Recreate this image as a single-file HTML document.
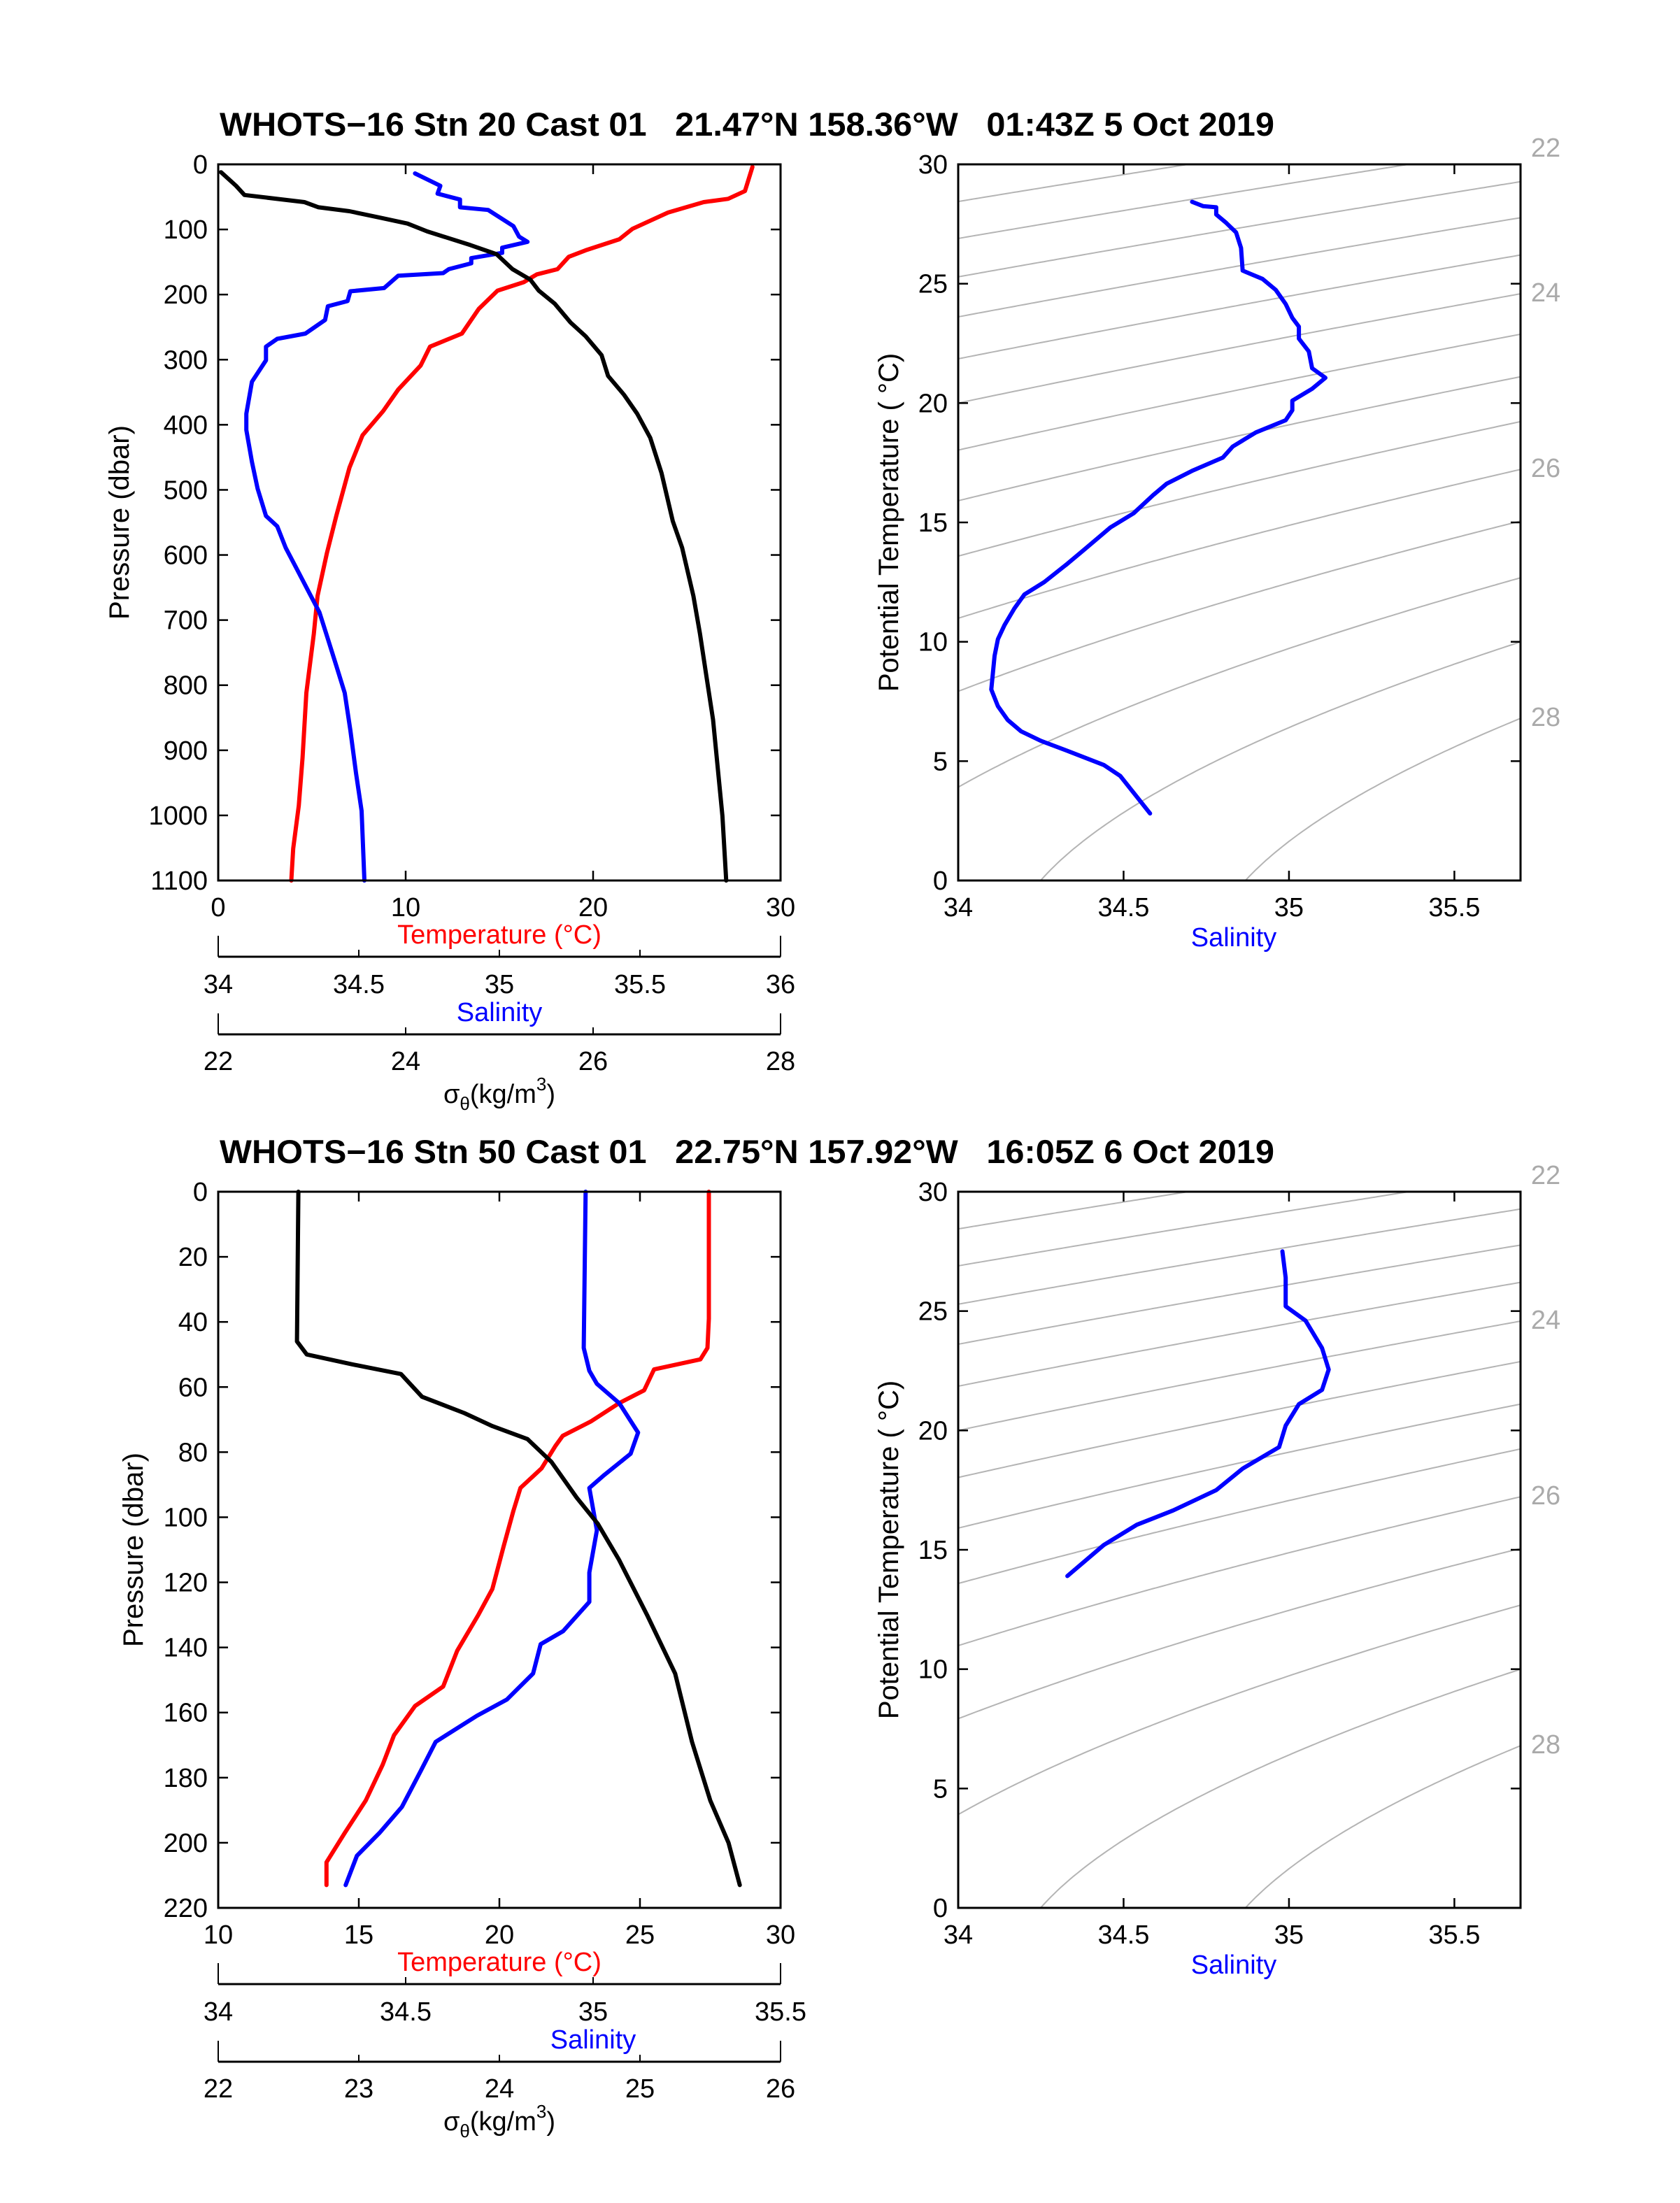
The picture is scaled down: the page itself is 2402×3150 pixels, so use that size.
<!DOCTYPE html>
<html><head><meta charset="utf-8"><title>WHOTS-16 CTD profiles</title>
<style>
html,body{margin:0;padding:0;background:#fff;}
svg{display:block;font-family:"Liberation Sans",Arial,sans-serif;}
</style></head>
<body>
<svg id="fig" xmlns="http://www.w3.org/2000/svg" width="2402" height="3150" viewBox="0 0 2402 3150"></svg>
<script>
// ===== Station 20 profile data =====
const s20Pres_T = [4,41,53,58,74,99,115,132,142,161,169,181,194,222,260,280,309,346,379,416,466,540,597,663,721,812,911,985,1051,1100];
const s20Temp   = [28.5,28.1,27.2,25.9,24.0,22.1,21.4,19.6,18.7,18.1,17.0,16.3,14.9,13.9,13.0,11.3,10.8,9.6,8.8,7.7,7.0,6.3,5.8,5.3,5.1,4.7,4.5,4.3,4.0,3.9];
const s20Pres_S = [14,33,45,54,66,70,95,111,119,128,136,144,152,161,167,171,190,195,210,218,239,260,268,280,301,334,383,408,457,498,540,556,589,622,655,688,729,770,812,869,935,993,1100];
const s20Sal    = [34.70,34.79,34.78,34.86,34.86,34.96,35.05,35.07,35.10,35.01,35.01,34.90,34.90,34.82,34.80,34.64,34.59,34.47,34.46,34.39,34.38,34.31,34.21,34.17,34.17,34.12,34.10,34.10,34.12,34.14,34.17,34.21,34.24,34.28,34.32,34.36,34.39,34.42,34.45,34.47,34.49,34.51,34.52];
const s20Pres_D = [12,33,47,58,66,72,82,91,103,113,124,138,161,177,194,214,243,264,293,325,354,383,420,474,548,589,663,721,787,853,927,1001,1100];
const s20Sigma  = [22.03,22.19,22.28,22.92,23.07,23.40,23.73,24.02,24.23,24.45,24.69,24.97,25.14,25.33,25.42,25.59,25.76,25.92,26.09,26.16,26.33,26.47,26.61,26.73,26.85,26.95,27.07,27.14,27.21,27.28,27.33,27.38,27.42];
const s20TS_S   = [34.707,34.74,34.78,34.78,34.81,34.84,34.855,34.86,34.92,34.96,34.99,35.01,35.03,35.03,35.06,35.07,35.11,35.07,35.01,35.01,34.99,34.90,34.83,34.80,34.71,34.63,34.59,34.53,34.46,34.38,34.33,34.26,34.20,34.17,34.14,34.12,34.11,34.10,34.12,34.15,34.19,34.25,34.34,34.44,34.49,34.58];
const s20TS_T   = [28.43,28.25,28.2,27.9,27.55,27.15,26.5,25.55,25.2,24.74,24.15,23.57,23.2,22.7,22.16,21.46,21.06,20.6,20.1,19.7,19.28,18.77,18.18,17.72,17.18,16.62,16.15,15.38,14.79,13.85,13.27,12.5,11.98,11.4,10.7,10.11,9.41,8.0,7.3,6.72,6.25,5.85,5.38,4.84,4.38,2.81];

// ===== Station 50 profile data =====
const s50Pres_T = [0,39,48,51.5,54.6,61,65,70.6,75,78,85,91,98,109,122,130,141,152,158,167,176,187,197,206,213];
const s50Temp   = [27.45,27.45,27.4,27.15,25.5,25.15,24.25,23.25,22.25,22.0,21.5,20.75,20.5,20.15,19.75,19.25,18.5,18.0,17.0,16.25,15.85,15.25,14.5,13.85,13.85];
const s50Pres_S = [0,48,55,59,65,74,80.5,87,91,104,117,126,135,139,148,156,161,169,178,189,197,204,213];
const s50Sal    = [34.98,34.975,34.99,35.01,35.07,35.12,35.10,35.03,34.99,35.01,34.99,34.99,34.92,34.86,34.84,34.77,34.69,34.58,34.54,34.49,34.43,34.37,34.34];
const s50Pres_D = [0,46,50,53,56,63,68,72,76,83,94,102,113,130,148,169,187,200,213];
const s50Sigma  = [22.57,22.56,22.63,22.95,23.3,23.45,23.75,23.95,24.2,24.37,24.55,24.7,24.85,25.05,25.25,25.37,25.5,25.63,25.71];
const s50TS_S   = [34.98,34.99,34.99,35.05,35.10,35.12,35.10,35.03,34.99,34.97,34.86,34.78,34.65,34.54,34.44,34.33];
const s50TS_T   = [27.5,26.4,25.2,24.6,23.45,22.55,21.7,21.1,20.2,19.3,18.4,17.5,16.65,16.05,15.2,13.9];

// ===== tick labels & contour levels =====
const s20PresTicks = [0,100,200,300,400,500,600,700,800,900,1000,1100];
const s20TempTicks = [0,10,20,30];
const s20SalTicks  = [34,34.5,35,35.5,36];
const s20SigTicks  = [22,24,26,28];
const s50PresTicks = [0,20,40,60,80,100,120,140,160,180,200,220];
const s50TempTicks = [10,15,20,25,30];
const s50SalTicks  = [34,34.5,35,35.5];
const s50SigTicks  = [22,23,24,25,26];
const tsSalTicks   = [34,34.5,35,35.5];
const tsTempTicks  = [0,5,10,15,20,25,30];
const sigmaLevels  = [21.5,22,22.5,23,23.5,24,24.5,25,25.5,26,26.5,27,27.5,28];
const sigmaLabelVals = [22,24,26,28];

const NS='http://www.w3.org/2000/svg';
const svg=document.getElementById('fig');
function mk(tag,attrs,parent){const e=document.createElementNS(NS,tag);for(const k in attrs)e.setAttribute(k,attrs[k]);(parent||svg).appendChild(e);return e;}
function txt(str,x,y,size,anchor,fill,parent,extra){const t=mk('text',Object.assign({x:x,y:y,'font-size':size,'text-anchor':anchor||'middle',fill:fill||'#000'},extra||{}),parent);t.textContent=str;return t;}
function lin(d0,d1,p0,p1){return v=>p0+(v-d0)/(d1-d0)*(p1-p0);}
function fmt(v){return String(v);}

const W=804,H=1024,LX=312,RX=1370;

function sigma(S,T){
  const rw=999.842594+6.793952e-2*T-9.095290e-3*T*T+1.001685e-4*T**3-1.120083e-6*T**4+6.536332e-9*T**5;
  const A=8.24493e-1-4.0899e-3*T+7.6438e-5*T*T-8.2467e-7*T**3+5.3875e-9*T**4;
  const B=-5.72466e-3+1.0227e-4*T-1.6546e-6*T*T;
  return rw+A*S+B*Math.pow(S,1.5)+4.8314e-4*S*S-1000;
}
function tForSigma(S,lev){let lo=-2,hi=40;if(sigma(S,lo)<lev||sigma(S,hi)>lev)return null;for(let i=0;i<50;i++){const m=(lo+hi)/2;if(sigma(S,m)>lev)lo=m;else hi=m;}return (lo+hi)/2;}

function profilePanel(oy,name,presTicks,pmax,tRange,tTicks,sRange,sTicks,dRange,dTicks,series,salLabelX,ytX){
  const g=mk('g',{});
  
  
  const top=oy,bot=oy+H;
  const py=lin(0,pmax,top,bot);
  const tx=lin(tRange[0],tRange[1],LX,LX+W);
  const sx=lin(sRange[0],sRange[1],LX,LX+W);
  const dx=lin(dRange[0],dRange[1],LX,LX+W);
  const defs=[[series.pT,series.T,tx,'#ff0000','temperature-line'],[series.pS,series.S,sx,'#0000ff','salinity-line'],[series.pD,series.D,dx,'#000000','sigma-theta-line']];
  defs.forEach(d=>{
    const pts=d[0].map((p,i)=>d[2](d[1][i]).toFixed(1)+','+py(p).toFixed(1)).join(' ');
    const pl=mk('polyline',{points:pts,fill:'none',stroke:d[3],'stroke-width':6,'stroke-linejoin':'round','stroke-linecap':'round'},g);
    
    
  });
  const fr=mk('rect',{x:LX,y:top,width:W,height:H,fill:'none',stroke:'#000','stroke-width':3},g);
  
  
  presTicks.forEach(p=>{const y=py(p);
    mk('line',{x1:LX,y1:y,x2:LX+14,y2:y,stroke:'#000','stroke-width':2.5},g);
    mk('line',{x1:LX+W,y1:y,x2:LX+W-14,y2:y,stroke:'#000','stroke-width':2.5},g);
    const t=txt(fmt(p),297,y+13,38,'end','#000',g);
    
    
  });
  tTicks.forEach(v=>{const x=tx(v);
    mk('line',{x1:x,y1:bot,x2:x,y2:bot-14,stroke:'#000','stroke-width':2.5},g);
    mk('line',{x1:x,y1:top,x2:x,y2:top+14,stroke:'#000','stroke-width':2.5},g);
    const t=txt(fmt(v),x,oy+1075,38,'middle','#000',g);
    
    
  });
  const tl=txt('Temperature (°C)',LX+W/2,oy+1114,38,'middle','#ff0000',g);
  
  
  const sy=oy+1133;
  mk('line',{x1:LX,y1:sy,x2:LX+W,y2:sy,stroke:'#000','stroke-width':3},g);
  sTicks.forEach((v,i)=>{const x=sx(v);const end=(i===0||i===sTicks.length-1);
    mk('line',{x1:x,y1:sy,x2:x,y2:sy-(end?30:10),stroke:'#000','stroke-width':2},g);
    const t=txt(fmt(v),x,oy+1185,38,'middle','#000',g);
    
    
  });
  const sl=txt('Salinity',salLabelX,oy+1225,38,'middle','#0000ff',g);
  
  
  const gy=oy+1244;
  mk('line',{x1:LX,y1:gy,x2:LX+W,y2:gy,stroke:'#000','stroke-width':3},g);
  dTicks.forEach((v,i)=>{const x=dx(v);const end=(i===0||i===dTicks.length-1);
    mk('line',{x1:x,y1:gy,x2:x,y2:gy-(end?30:10),stroke:'#000','stroke-width':2},g);
    const t=txt(fmt(v),x,oy+1295,38,'middle','#000',g);
    
    
  });
  const st=mk('text',{x:LX+W/2,y:oy+1342,'font-size':38,'text-anchor':'middle',fill:'#000'},g);
  
  
  st.innerHTML='σ<tspan font-size="26" dy="10">θ</tspan><tspan dy="-10">(kg/m</tspan><tspan font-size="26" dy="-18">3</tspan><tspan dy="18">)</tspan>';
  const yt=txt('Pressure (dbar)',0,0,40,'middle','#000',g,{transform:'translate('+ytX+','+(oy+H/2)+') rotate(-90)'});
  
  
}

function tsPanel(oy,name,S,T){
  const g=mk('g',{});
  
  
  const top=oy,bot=oy+H;
  const xs=lin(34,35.7,RX,RX+W);
  const ys=lin(0,30,bot,top);
  const clip=mk('clipPath',{id:'clip'+oy},g);
  mk('rect',{x:RX,y:top,width:W,height:H},clip);
  const cg=mk('g',{'clip-path':'url(#clip'+oy+')'},g);
  sigmaLevels.forEach(lev=>{
    const pts=[];
    for(let i=0;i<=170;i++){const s=34+i*0.01;const t=tForSigma(s,lev);if(t!==null&&t>=-0.5&&t<=30.5)pts.push(xs(s).toFixed(1)+','+ys(t).toFixed(1));}
    if(pts.length>1){const pl=mk('polyline',{points:pts.join(' '),fill:'none',stroke:'#b4b4b4','stroke-width':2},cg);
      
      }
  });
  const pts=S.map((s,i)=>xs(s).toFixed(1)+','+ys(T[i]).toFixed(1)).join(' ');
  const pl=mk('polyline',{points:pts,fill:'none',stroke:'#0000ff','stroke-width':6,'stroke-linejoin':'round','stroke-linecap':'round'},cg);
  
  
  const fr=mk('rect',{x:RX,y:top,width:W,height:H,fill:'none',stroke:'#000','stroke-width':3},g);
  
  
  tsTempTicks.forEach(v=>{const y=ys(v);
    mk('line',{x1:RX,y1:y,x2:RX+14,y2:y,stroke:'#000','stroke-width':2.5},g);
    mk('line',{x1:RX+W,y1:y,x2:RX+W-14,y2:y,stroke:'#000','stroke-width':2.5},g);
    const t=txt(fmt(v),1355,y+13,38,'end','#000',g);
    
    
  });
  tsSalTicks.forEach(v=>{const x=xs(v);
    mk('line',{x1:x,y1:bot,x2:x,y2:bot-14,stroke:'#000','stroke-width':2.5},g);
    mk('line',{x1:x,y1:top,x2:x,y2:top+14,stroke:'#000','stroke-width':2.5},g);
    const t=txt(fmt(v),x,oy+1075,38,'middle','#000',g);
    
    
  });
  const sl=txt('Salinity',1764,oy+1118,38,'middle','#0000ff',g);
  
  
  const yt=txt('Potential Temperature ( °C)',0,0,40,'middle','#000',g,{transform:'translate(1284,'+(oy+H/2)+') rotate(-90)'});
  
  
  sigmaLabelVals.forEach(lev=>{
    let t=tForSigma(35.7,lev);let y;
    if(t!==null&&t<=30) y=ys(t); else y=top-22;
    const lb=txt(String(lev),2210,y+11,38,'middle','#aaaaaa',g);
    
    
  });
}

function title(str,y){const t=txt(str,314,y,47,'start','#000',null,{'font-weight':'bold',textLength:1508,lengthAdjust:'spacingAndGlyphs',style:'white-space:pre'});
  
  }

title('WHOTS\u221216 Stn 20 Cast 01\u00a0\u00a0\u00a021.47°N 158.36°W\u00a0\u00a0\u00a001:43Z 5 Oct 2019',194);
title('WHOTS\u221216 Stn 50 Cast 01\u00a0\u00a0\u00a022.75°N 157.92°W\u00a0\u00a0\u00a016:05Z 6 Oct 2019',1663);

profilePanel(235,'station-20-profile',s20PresTicks,1100,[0,30],s20TempTicks,[34,36],s20SalTicks,[22,28],s20SigTicks,
  {pT:s20Pres_T,T:s20Temp,pS:s20Pres_S,S:s20Sal,pD:s20Pres_D,D:s20Sigma},LX+W/2,184);
profilePanel(1704,'station-50-profile',s50PresTicks,220,[10,30],s50TempTicks,[34,35.5],s50SalTicks,[22,26],s50SigTicks,
  {pT:s50Pres_T,T:s50Temp,pS:s50Pres_S,S:s50Sal,pD:s50Pres_D,D:s50Sigma},848,204);
tsPanel(235,'station-20-ts-diagram',s20TS_S,s20TS_T);
tsPanel(1704,'station-50-ts-diagram',s50TS_S,s50TS_T);
</script>
</body></html>
